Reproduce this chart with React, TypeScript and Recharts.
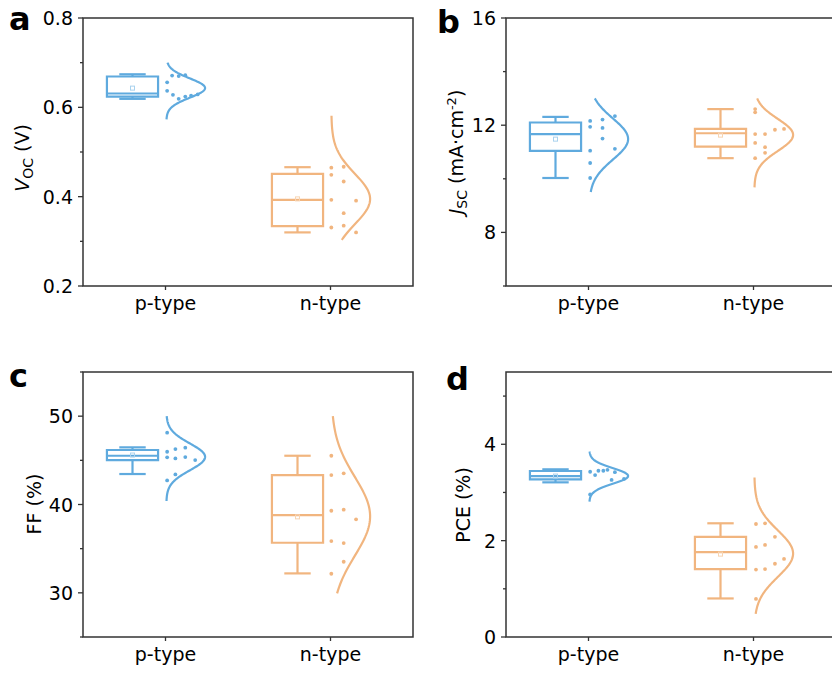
import React from 'react';
import { ComposedChart, XAxis, YAxis, Scatter, Line, ReferenceArea, ReferenceLine } from 'recharts';

const FONT = "'DejaVu Sans', Verdana, sans-serif";
const AXIS = '#333333';
const BLUE = '#5FAADE';
const ORANGE = '#F1B57F';
const BLUE_LIGHT = '#A9D2EE';
const ORANGE_LIGHT = '#F7D4B2';

const categories = ['p-type', 'n-type'];
const categoryPos = [1, 3];

// ---- Panel a: Voc (V)
const vocP = [0.671, 0.670, 0.672, 0.656, 0.637, 0.628, 0.619, 0.624, 0.626, 0.629];
const vocPJitter = [0.08, 0.16, 0.24, 0.02, 0.02, 0.09, 0.16, 0.24, 0.31, 0.39];
const vocN = [0.465, 0.467, 0.449, 0.434, 0.393, 0.391, 0.363, 0.331, 0.335, 0.320];
const vocNJitter = [0.01, 0.16, 0.01, 0.16, 0.01, 0.31, 0.16, 0.01, 0.16, 0.31];
const vocBoxP = [0.619, 0.624, 0.631, 0.669, 0.674];
const vocBoxN = [0.320, 0.334, 0.393, 0.451, 0.466];
const vocMean = [0.643, 0.395];
const vocCurveRangeP = [0.573, 0.700];
const vocCurveRangeN = [0.303, 0.581];
const vocMajor = [0.2, 0.4, 0.6, 0.8];
const vocMinor = [0.3, 0.5, 0.7];

// ---- Panel b: Jsc (mA cm-2)
const jscP = [12.16, 12.21, 12.34, 11.94, 11.90, 11.50, 11.12, 11.05, 10.59, 10.03];
const jscPJitter = [0.02, 0.17, 0.32, 0.02, 0.17, 0.17, 0.32, 0.02, 0.02, 0.02];
const jscN = [12.60, 12.48, 11.67, 11.67, 11.83, 11.86, 11.34, 11.18, 10.97, 10.77];
const jscNJitter = [0.02, 0.02, 0.02, 0.14, 0.26, 0.37, 0.02, 0.14, 0.14, 0.02];
const jscBoxP = [10.03, 11.04, 11.67, 12.10, 12.31];
const jscBoxN = [10.77, 11.20, 11.70, 11.86, 12.60];
const jscMean = [11.48, 11.63];
const jscCurveRangeP = [9.51, 13.0];
const jscCurveRangeN = [9.68, 13.0];
const jscMajor = [8, 12, 16];
const jscMinor = [6, 10, 14];

// ---- Panel c: FF (%)
const ffP = [48.13, 46.28, 46.43, 45.97, 45.34, 45.22, 45.37, 45.03, 43.41, 42.73];
const ffPJitter = [0.02, 0.12, 0.24, 0.02, 0.02, 0.12, 0.24, 0.36, 0.12, 0.02];
const ffN = [45.52, 43.33, 43.53, 39.29, 39.41, 38.32, 35.86, 35.63, 33.52, 32.16];
const ffNJitter = [0.01, 0.01, 0.16, 0.01, 0.16, 0.31, 0.01, 0.16, 0.16, 0.01];
const ffBoxP = [43.45, 45.03, 45.52, 46.17, 46.47];
const ffBoxN = [32.2, 35.67, 38.8, 43.33, 45.52];
const ffMean = [45.6, 38.6];
const ffCurveRangeP = [40.4, 50.0];
const ffCurveRangeN = [29.94, 50.0];
const ffMajor = [30, 40, 50];
const ffMinor = [25, 35, 45, 55];

// ---- Panel d: PCE (%)
const pceP = [3.43, 3.36, 3.45, 3.45, 3.47, 3.42, 3.26, 3.28, 2.96];
const pcePJitter = [0.02, 0.08, 0.12, 0.18, 0.23, 0.32, 0.28, 0.43, 0.02];
const pceN = [2.345, 2.36, 2.08, 1.87, 1.91, 1.62, 1.52, 1.40, 1.41, 0.79];
const pceNJitter = [0.03, 0.14, 0.26, 0.03, 0.14, 0.37, 0.26, 0.03, 0.14, 0.03];
const pceBoxP = [3.21, 3.27, 3.34, 3.445, 3.48];
const pceBoxN = [0.80, 1.41, 1.76, 2.08, 2.36];
const pceMean = [3.34, 1.72];
const pceCurveRangeP = [2.81, 3.85];
const pceCurveRangeN = [0.48, 3.31];
const pceMajor = [0, 2, 4];
const pceMinor = [1, 3, 5];

// geometry of the half-violin layout (in category units)
const BOX_OFFSET = -0.4;
const BOX_HALF = 0.31;
const CAP_HALF = 0.16;
const CURVE_BASE = 0.01;
const CURVE_AMP = 0.47;

function stats(vals: number[]) {
  const n = vals.length;
  const mean = vals.reduce((a, b) => a + b, 0) / n;
  const sd = Math.sqrt(vals.reduce((a, b) => a + (b - mean) * (b - mean), 0) / (n - 1));
  return { mean, sd };
}

function curvePoints(vals: number[], range: number[], pos: number) {
  const { mean, sd } = stats(vals);
  const n = 100;
  const pts: { x: number; y: number }[] = [];
  for (let i = 0; i <= n; i++) {
    const y = range[0] + ((range[1] - range[0]) * i) / n;
    const z = (y - mean) / sd;
    pts.push({ x: pos + CURVE_BASE + CURVE_AMP * Math.exp(-0.5 * z * z), y });
  }
  return pts;
}

type Group = {
  values: number[];
  jitter: number[];
  box: number[];
  mean: number;
  range: number[];
  color: string;
  light: string;
};

const XTick = (p: any) => {
  const { x, y, payload } = p;
  const idx = categoryPos.indexOf(payload.value);
  return (
    <g>
      <line x1={x} x2={x} y1={y} y2={y + 4} stroke={AXIS} strokeWidth={1.3} />
      <text x={x} y={y + 23.5} textAnchor="middle" fontSize={19} fontFamily={FONT} fill="#000">
        {categories[idx]}
      </text>
    </g>
  );
};

const YTick = (p: any) => {
  const { x, y, payload, majors, digits } = p;
  const v = payload.value;
  const major = majors.some((m: number) => Math.abs(m - v) < 1e-9);
  return (
    <g>
      <line x1={x} x2={x - (major ? 5 : 3)} y1={y} y2={y} stroke={AXIS} strokeWidth={1.3} />
      {major && (
        <text x={x - 10} y={y + 7} textAnchor="end" fontSize={19} fontFamily={FONT} fill="#000">
          {v.toFixed(digits)}
        </text>
      )}
    </g>
  );
};

function Panel(props: {
  left: number;
  top: number;
  width: number;
  height: number;
  domain: number[];
  majors: number[];
  minors: number[];
  digits: number;
  groups: Group[];
}) {
  const { left, top, width, height, domain, majors, minors, digits, groups } = props;
  const ML = 70, MT = 10, MR = 10, XH = 40;
  const ticks = [...majors, ...minors].sort((a, b) => a - b);
  const els: React.ReactElement[] = [];
  groups.forEach((g, i) => {
    const pos = categoryPos[i];
    const bx = pos + BOX_OFFSET;
    const [mn, q1, med, q3, mx] = g.box;
    const sw = 2.2;
    els.push(
      <ReferenceLine key={`wl${i}`} segment={[{ x: bx, y: mn }, { x: bx, y: q1 }]} stroke={g.color} strokeWidth={sw} ifOverflow="visible" />
    );
    els.push(
      <ReferenceLine key={`wu${i}`} segment={[{ x: bx, y: q3 }, { x: bx, y: mx }]} stroke={g.color} strokeWidth={sw} ifOverflow="visible" />
    );
    els.push(
      <ReferenceLine key={`cl${i}`} segment={[{ x: bx - CAP_HALF, y: mn }, { x: bx + CAP_HALF, y: mn }]} stroke={g.color} strokeWidth={sw} ifOverflow="visible" />
    );
    els.push(
      <ReferenceLine key={`cu${i}`} segment={[{ x: bx - CAP_HALF, y: mx }, { x: bx + CAP_HALF, y: mx }]} stroke={g.color} strokeWidth={sw} ifOverflow="visible" />
    );
    els.push(
      <ReferenceArea key={`box${i}`} x1={bx - BOX_HALF} x2={bx + BOX_HALF} y1={q1} y2={q3} fill="#ffffff" fillOpacity={1} stroke={g.color} strokeWidth={sw} ifOverflow="visible" />
    );
    els.push(
      <ReferenceLine key={`med${i}`} segment={[{ x: bx - BOX_HALF, y: med }, { x: bx + BOX_HALF, y: med }]} stroke={g.color} strokeWidth={sw} ifOverflow="visible" />
    );
    els.push(
      <Line
        key={`curve${i}`}
        data={curvePoints(g.values, g.range, pos)}
        dataKey="y"
        type="linear"
        dot={false}
        activeDot={false}
        stroke={g.color}
        strokeWidth={2.2}
        isAnimationActive={false}
      />
    );
    els.push(
      <Scatter
        key={`dots${i}`}
        data={g.values.map((v, j) => ({ x: pos + g.jitter[j], y: v }))}
        shape={(sp: any) => <circle cx={sp.cx} cy={sp.cy} r={1.9} fill={g.color} />}
        isAnimationActive={false}
      />
    );
    els.push(
      <Scatter
        key={`mean${i}`}
        data={[{ x: bx, y: g.mean }]}
        shape={(sp: any) => (
          <rect x={sp.cx - 2} y={sp.cy - 2} width={4} height={4} fill="none" stroke={g.light} strokeWidth={1} />
        )}
        isAnimationActive={false}
      />
    );
  });
  return (
    <div style={{ position: 'absolute', left: left - ML, top: top - MT }}>
      <ComposedChart width={ML + width + MR} height={MT + height + XH} margin={{ top: MT, right: MR, bottom: 0, left: 0 }}>
        <XAxis
          type="number"
          dataKey="x"
          domain={[0, 4]}
          ticks={categoryPos}
          allowDataOverflow
          height={XH}
          axisLine={false}
          tickLine={false}
          tickSize={0}
          tickMargin={0}
          interval={0}
          tick={(p: any) => <XTick {...p} />}
        />
        <YAxis
          type="number"
          dataKey="y"
          domain={domain}
          ticks={ticks}
          allowDataOverflow
          width={ML}
          axisLine={false}
          tickLine={false}
          tickSize={0}
          tickMargin={0}
          interval={0}
          tick={(p: any) => <YTick {...p} majors={majors} digits={digits} />}
        />
        <ReferenceArea x1={0} x2={4} y1={domain[0]} y2={domain[1]} fill="none" stroke={AXIS} strokeWidth={1.5} ifOverflow="visible" />
        {els}
      </ComposedChart>
    </div>
  );
}

function mk(values: number[], jitter: number[], box: number[], mean: number, range: number[], blue: boolean): Group {
  return { values, jitter, box, mean, range, color: blue ? BLUE : ORANGE, light: blue ? BLUE_LIGHT : ORANGE_LIGHT };
}

export default function App() {
  const titleStyle = { fontFamily: FONT, fontSize: 19, fill: '#000' };
  const letterStyle = { fontFamily: FONT, fontSize: 32, fontWeight: 700, fill: '#000' } as const;
  return (
    <div style={{ position: 'absolute', left: 0, top: 0, width: 832, height: 675, overflow: 'hidden', background: '#fff' }}>
      <Panel
        left={83} top={18} width={330} height={268}
        domain={[0.2, 0.8]} majors={vocMajor} minors={vocMinor} digits={1}
        groups={[
          mk(vocP, vocPJitter, vocBoxP, vocMean[0], vocCurveRangeP, true),
          mk(vocN, vocNJitter, vocBoxN, vocMean[1], vocCurveRangeN, false),
        ]}
      />
      <Panel
        left={506} top={18} width={330} height={268}
        domain={[6, 16]} majors={jscMajor} minors={jscMinor} digits={0}
        groups={[
          mk(jscP, jscPJitter, jscBoxP, jscMean[0], jscCurveRangeP, true),
          mk(jscN, jscNJitter, jscBoxN, jscMean[1], jscCurveRangeN, false),
        ]}
      />
      <Panel
        left={83} top={372} width={330} height={265}
        domain={[25, 55]} majors={ffMajor} minors={ffMinor} digits={0}
        groups={[
          mk(ffP, ffPJitter, ffBoxP, ffMean[0], ffCurveRangeP, true),
          mk(ffN, ffNJitter, ffBoxN, ffMean[1], ffCurveRangeN, false),
        ]}
      />
      <Panel
        left={506} top={372} width={330} height={265}
        domain={[0, 5.5]} majors={pceMajor} minors={pceMinor} digits={0}
        groups={[
          mk(pceP, pcePJitter, pceBoxP, pceMean[0], pceCurveRangeP, true),
          mk(pceN, pceNJitter, pceBoxN, pceMean[1], pceCurveRangeN, false),
        ]}
      />
      <svg width={832} height={675} style={{ position: 'absolute', left: 0, top: 0, pointerEvents: 'none' }}>
        <text x={9} y={30} {...letterStyle}>a</text>
        <text x={437} y={33} {...letterStyle}>b</text>
        <text x={9} y={387} {...letterStyle}>c</text>
        <text x={446} y={390} {...letterStyle}>d</text>

        <text x={28.5} y={158} transform="rotate(-90, 28.5, 158)" textAnchor="middle" {...titleStyle}>
          <tspan fontStyle="italic">V</tspan>
          <tspan fontSize={14} dy={4}>OC</tspan>
          <tspan dy={-4}> (V)</tspan>
        </text>
        <text x={463} y={152} transform="rotate(-90, 463, 152)" textAnchor="middle" {...titleStyle}>
          <tspan fontStyle="italic">J</tspan>
          <tspan fontSize={14} dy={4}>SC</tspan>
          <tspan dy={-4}> (mA·cm</tspan>
          <tspan fontSize={13} dy={-7}>-2</tspan>
          <tspan dy={7}>)</tspan>
        </text>
        <text x={41} y={504} transform="rotate(-90, 41, 504)" textAnchor="middle" {...titleStyle}>FF (%)</text>
        <text x={469.5} y={505} transform="rotate(-90, 469.5, 505)" textAnchor="middle" {...titleStyle}>PCE (%)</text>
      </svg>
    </div>
  );
}
